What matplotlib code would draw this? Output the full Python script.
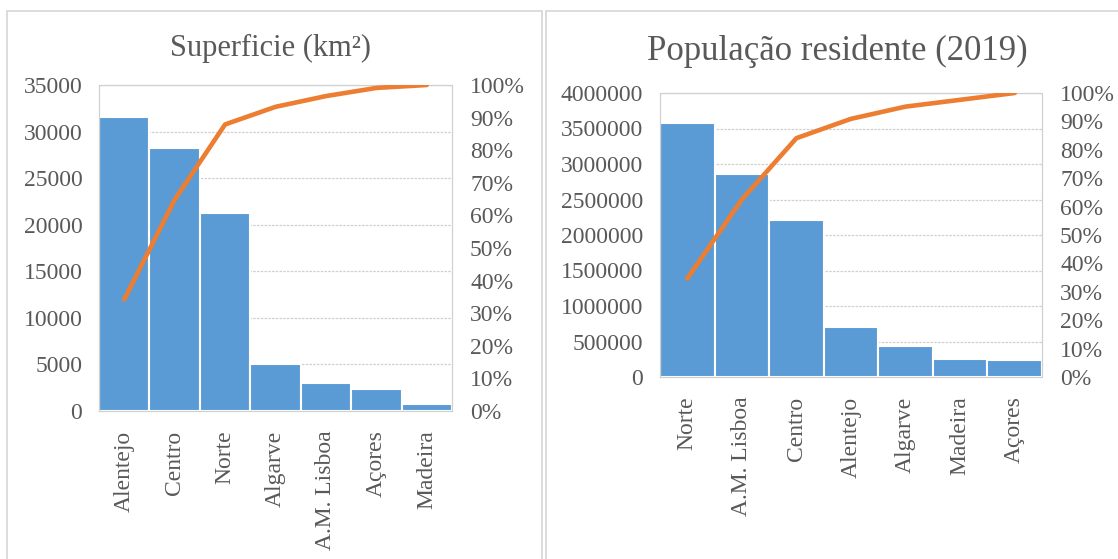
import matplotlib
matplotlib.use("Agg")
import matplotlib.pyplot as plt
from matplotlib.patches import Rectangle
import numpy as np

plt.rcParams['font.family'] = ['Liberation Serif', 'DejaVu Serif']

# ---- data ----
area_title = "Superficie (km²)"
area_regions = ["Alentejo", "Centro", "Norte", "Algarve", "A.M. Lisboa", "Açores", "Madeira"]
area_values = [31551, 28199, 21286, 4997, 3015, 2322, 801]
area_cum_pct = [34.2, 64.8, 87.9, 93.3, 96.6, 99.1, 100.0]
area_yticks = [0, 5000, 10000, 15000, 20000, 25000, 30000, 35000]

pop_title = "População residente (2019)"
pop_regions = ["Norte", "A.M. Lisboa", "Centro", "Alentejo", "Algarve", "Madeira", "Açores"]
pop_values = [3575338, 2863272, 2216569, 704558, 438406, 254254, 242796]
pop_cum_pct = [34.7, 62.5, 84.1, 90.9, 95.2, 97.6, 100.0]
pop_yticks = [0, 500000, 1000000, 1500000, 2000000, 2500000, 3000000, 3500000, 4000000]

pct_ticks = [0, 10, 20, 30, 40, 50, 60, 70, 80, 90, 100]

# ---- style ----
W, H = 1118, 559
BAR = '#5B9BD5'
LINE = '#ED7D31'
TXT = '#595959'
GRID = '#D0D0D0'
BORDER = '#D9D9D9'

fig = plt.figure(figsize=(W / 100, H / 100), dpi=100)
fig.patch.set_facecolor('white')

# panel borders
fig.add_artist(Rectangle((7 / W, -0.05), (542 - 7) / W, 1.05 - 11 / H,
                         transform=fig.transFigure, fill=False,
                         edgecolor=BORDER, linewidth=1.3))
fig.add_artist(Rectangle((546 / W, -0.05), 0.6, 1.05 - 11 / H,
                         transform=fig.transFigure, fill=False,
                         edgecolor=BORDER, linewidth=1.3))


def pareto(rect, regions, values, cum_pct, yticks, title, title_xy, title_size):
    ax = fig.add_axes(rect)
    x = np.arange(len(regions))
    ax.bar(x, values, width=1.0, color=BAR, edgecolor='white', linewidth=1.5, zorder=2)
    ax.set_xlim(-0.5, len(regions) - 0.5)
    ax.set_ylim(yticks[0], yticks[-1])
    ax.set_yticks(yticks)
    ax.set_yticklabels([str(v) for v in yticks])
    ax.set_xticks(x)
    ax.set_xticklabels(regions, rotation=90, va='top', ha='center')
    ax.yaxis.grid(True, color=GRID, linestyle=(0, (2, 1)), linewidth=0.9, zorder=0)
    ax.set_axisbelow(True)
    for s in ax.spines.values():
        s.set_color(GRID)
        s.set_linestyle((0, (2, 1)))
        s.set_linewidth(0.9)
    ax.tick_params(axis='y', length=0, pad=12, labelsize=17, labelcolor=TXT)
    ax.tick_params(axis='x', length=0, pad=14, labelsize=17, labelcolor=TXT)

    ax2 = ax.twinx()
    ax2.plot(x, cum_pct, color=LINE, linewidth=3.3, solid_capstyle='round', zorder=3)
    ax2.set_ylim(0, 100)
    ax2.set_yticks(pct_ticks)
    ax2.set_yticklabels([f"{p}%" for p in pct_ticks])
    ax2.tick_params(axis='y', length=0, pad=13, labelsize=17, labelcolor=TXT)
    for s in ax2.spines.values():
        s.set_visible(False)

    fig.text(title_xy[0] / W, 1 - title_xy[1] / H, title, ha='center', va='baseline',
             fontsize=title_size, color=TXT)
    return ax


pareto([99 / W, 1 - 411 / H, (452 - 99) / W, (411 - 85) / H],
       area_regions, area_values, area_cum_pct, area_yticks,
       area_title, (270, 56), 22)

pareto([660 / W, 1 - 377 / H, (1042 - 660) / W, (377 - 93) / H],
       pop_regions, pop_values, pop_cum_pct, pop_yticks,
       pop_title, (837, 60), 25)

fig.savefig('out.png', dpi=100, facecolor='white')
